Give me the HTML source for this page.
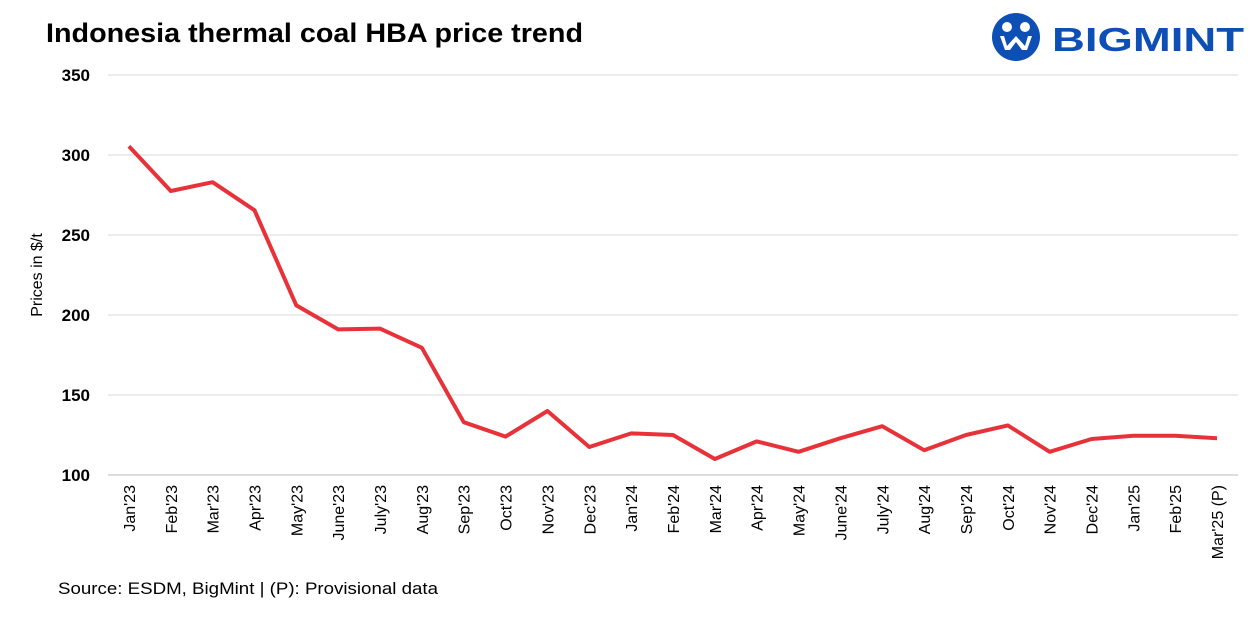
<!DOCTYPE html>
<html><head><meta charset="utf-8"><style>
body{margin:0;background:#fff;font-family:"Liberation Sans",sans-serif;}
svg{display:block}
</style></head><body>
<svg id="c" width="1259" height="625">
<text x="46" y="42" font-size="27" font-weight="bold" fill="#000" textLength="537" lengthAdjust="spacingAndGlyphs">Indonesia thermal coal HBA price trend</text>
<g>
<circle cx="1016" cy="37" r="24" fill="#0d4fb5"/>
<circle cx="1007" cy="27" r="5" fill="#fff"/><circle cx="1025" cy="27" r="5" fill="#fff"/>
<path d="M1000 36 L1005 50 L1010 50 L1016 42 L1022 50 L1027 50 L1032 36 L1028 36 L1025 46 L1016 36 L1007 46 L1004 36Z" fill="#fff"/>
<text x="1052" y="51" font-size="33" font-weight="bold" fill="#0d4fb5" textLength="192" lengthAdjust="spacingAndGlyphs">BIGMINT</text>
</g>
<text transform="translate(42,275) rotate(-90)" text-anchor="middle" font-size="16">Prices in $/t</text>
<text x="58" y="594" font-size="17" textLength="380" lengthAdjust="spacingAndGlyphs">Source: ESDM, BigMint | (P): Provisional data</text>
<g id="grid"></g><g id="yt"></g><g id="xt"></g><g id="ln"></g>
</svg>
<script>
const categories=["Jan'23","Feb'23","Mar'23","Apr'23","May'23","June'23","July'23","Aug'23","Sep'23","Oct'23","Nov'23","Dec'23","Jan'24","Feb'24","Mar'24","Apr'24","May'24","June'24","July'24","Aug'24","Sep'24","Oct'24","Nov'24","Dec'24","Jan'25","Feb'25","Mar'25 (P)"];
const prices=[305.5,277.5,283,265.5,206,191,191.5,179.5,133,124,140,117.5,126,125,110,121,114.5,123,130.5,115.5,125,131,114.5,122.5,124.5,124.5,123];
const yTicks=[100,150,200,250,300,350];
const ns="http://www.w3.org/2000/svg";
const X0=108,X1=1238,Y0=475,Y1=75;
const yS=v=>Y0-(v-100)/250*(Y0-Y1);
const step=(X1-X0)/categories.length;
const xS=i=>X0+step*(i+0.5);
function mk(t,a,p){const e=document.createElementNS(ns,t);for(const k in a)e.setAttribute(k,a[k]);p.appendChild(e);return e;}
yTicks.forEach(v=>{
 const l=mk('line',{x1:X0,x2:X1,y1:yS(v),y2:yS(v),stroke:v==100?'#bbb':'#d9d9d9','stroke-width':1},document.getElementById('grid'));
 
 
 const t=mk('text',{x:90,y:yS(v)+6,'text-anchor':'end','font-size':17,'font-weight':'bold'},document.getElementById('yt'));
 t.textContent=v;
 
 
});
categories.forEach((c,i)=>{
 const x=xS(i);
 const t=mk('text',{transform:`translate(${x+6},485) rotate(-90)`,'text-anchor':'end','font-size':16},document.getElementById('xt'));
 t.textContent=c;
 
 
});
const p=mk('polyline',{points:prices.map((v,i)=>xS(i)+','+yS(v)).join(' '),fill:'none',stroke:'#e8323a','stroke-width':4,'stroke-linejoin':'round'},document.getElementById('ln'));


</script>
</body></html>
